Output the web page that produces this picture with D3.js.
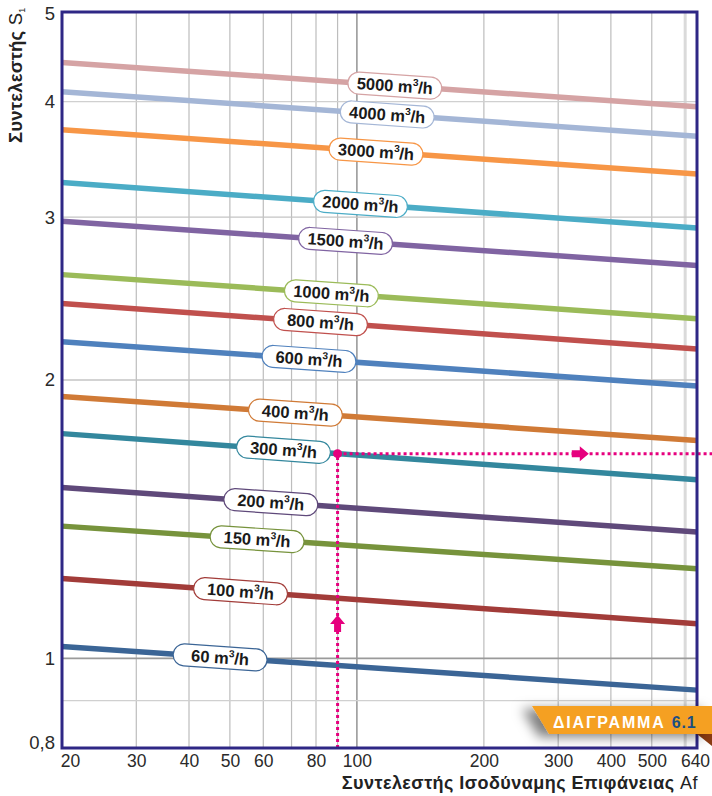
<!DOCTYPE html>
<html>
<head>
<meta charset="utf-8">
<script src="https://cdn.jsdelivr.net/npm/d3@7"></script>
<style>
  html, body { margin: 0; padding: 0; background: #fff; }
  svg { display: block; font-family: "Liberation Sans", Arial, sans-serif; }
</style>
</head>
<body>
<svg id="chart" width="712" height="796"></svg>
<script>
// Airflow curves (m³/h): coefficient S1 at Af = 20 and at Af = 640
const flows   = [5000, 4000, 3000, 2000, 1500, 1000, 800, 600, 400, 300, 200, 150, 100, 60];
const sAt20   = [4.41, 4.10, 3.73, 3.27, 2.97, 2.60, 2.42, 2.20, 1.92, 1.75, 1.53, 1.39, 1.22, 1.03];
const sAt640  = [3.95, 3.67, 3.34, 2.92, 2.66, 2.33, 2.16, 1.97, 1.72, 1.56, 1.37, 1.25, 1.09, 0.924];
// Af value where each curve carries its label
const labelAf = [123, 118, 111, 102, 94, 87, 82, 77, 71.5, 67, 62.5, 58, 53, 47.4];
const colors  = ["#d5a3a4", "#a4b6d6", "#f79646", "#4bacc6", "#8064a2", "#9bbb59", "#c0504d",
                 "#4f81bd", "#d07a36", "#33879d", "#5f497a", "#77933c", "#a23c39", "#3b6596"];

const xTickValues = [20, 30, 40, 50, 60, 80, 100, 200, 300, 400, 500, 640];
const xGridValues = [30, 40, 50, 60, 70, 80, 90, 100, 200, 300, 400, 500, 600];
const yTickValues = [0.8, 1, 2, 3, 4, 5];
const yTickLabels = ["0,8", "1", "2", "3", "4", "5"];
const yGridValues = [0.9, 1, 2, 3, 4];

// Worked example: Af = 90 on the 300 m³/h curve
const exampleAf = 90;
const exampleFlow = 300;

(function draw() {
  const svg = d3.select("#chart");
  const pL = 62, pR = 697, pT = 12, pB = 748;

  const x = d3.scaleLog().domain([20, 640]).range([pL, pR]);
  const y = d3.scaleLog().domain([0.8, 5]).range([pB, pT]);

  const defs = svg.append("defs");
  const shadow = defs.append("filter").attr("id", "badgeShadow")
    .attr("x", "-30%").attr("y", "-60%").attr("width", "160%").attr("height", "220%");
  shadow.append("feDropShadow").attr("dx", -10).attr("dy", 3).attr("stdDeviation", 6)
    .attr("flood-color", "#000").attr("flood-opacity", 0.5);

  // Grid
  const grid = svg.append("g");
  grid.selectAll("line.vx").data(xGridValues).join("line")
    .attr("x1", d => x(d)).attr("x2", d => x(d))
    .attr("y1", pT).attr("y2", pB)
    .attr("stroke", d => d === 100 ? "#9a9a9a" : d === 600 ? "#dadada" : "#bdbdbd")
    .attr("stroke-width", d => d === 100 ? 1.6 : d === 600 ? 3 : 1.2);
  grid.selectAll("line.hy").data(yGridValues).join("line")
    .attr("x1", pL).attr("x2", pR)
    .attr("y1", d => y(d)).attr("y2", d => y(d))
    .attr("stroke", d => d === 1 ? "#9a9a9a" : (d === 0.9 || d === 4) ? "#d0d0d0" : "#c4c4c4")
    .attr("stroke-width", d => d === 1 ? 1.6 : 1.3);

  // Curves
  const series = flows.map((f, i) => ({ flow: f, s0: sAt20[i], s1: sAt640[i], at: labelAf[i], color: colors[i] }));
  const line = d3.line().x(d => x(d[0])).y(d => y(d[1]));

  svg.append("g").selectAll("path").data(series).join("path")
    .attr("d", d => line([[20, d.s0], [640, d.s1]]))
    .attr("fill", "none").attr("stroke", d => d.color).attr("stroke-width", 5.5);

  // Pixel position along a curve (straight on log-log axes)
  function onCurve(d, af) {
    const t = (x(af) - x(20)) / (x(640) - x(20));
    return [x(af), y(d.s0) + (y(d.s1) - y(d.s0)) * t];
  }

  // Example guide lines
  const ex = series.find(d => d.flow === exampleFlow);
  const [exX, exY] = onCurve(ex, exampleAf);
  const pink = "#e6007e";
  const guide = svg.append("g");
  guide.append("line").attr("x1", exX).attr("x2", exX).attr("y1", pB).attr("y2", exY)
    .attr("stroke", pink).attr("stroke-width", 3).attr("stroke-dasharray", "3,3");
  guide.append("line").attr("x1", exX).attr("x2", 712).attr("y1", exY).attr("y2", exY)
    .attr("stroke", pink).attr("stroke-width", 3).attr("stroke-dasharray", "3,3");
  guide.append("circle").attr("cx", exX).attr("cy", exY).attr("r", 4.5).attr("fill", pink);
  // upward arrow on the vertical guide
  const upY = y(1.1);
  guide.append("path")
    .attr("d", `M${exX},${upY - 5} l7.5,9 h-4 v8 h-7 v-8 h-4 z`)
    .attr("fill", pink);
  // rightward arrow on the horizontal guide
  const rX = x(345);
  guide.append("path")
    .attr("d", `M${rX + 5},${exY} l-9,-7.5 v4 h-8 v7 h8 v4 z`)
    .attr("fill", pink);

  // Curve labels
  const labels = svg.append("g").selectAll("g").data(series).join("g")
    .attr("transform", d => {
      const [px, py] = onCurve(d, d.at);
      const ang = Math.atan2(y(d.s1) - y(d.s0), x(640) - x(20)) * 180 / Math.PI;
      return `translate(${px},${py}) rotate(${ang})`;
    });
  labels.append("rect")
    .attr("x", -47).attr("y", -11).attr("width", 94).attr("height", 22).attr("rx", 11)
    .attr("fill", "#fff").attr("stroke", d => d.color).attr("stroke-width", 1.2);
  const lt = labels.append("text")
    .attr("text-anchor", "middle").attr("y", 6)
    .attr("font-size", 16.5).attr("font-weight", "bold").attr("fill", "#1a1a1a");
  lt.append("tspan").text(d => d.flow + " m");
  lt.append("tspan").attr("font-size", 10).attr("dy", -7).text("3");
  lt.append("tspan").attr("dy", 7).text("/h");

  // Axes tick labels
  const xAxis = d3.axisBottom(x).tickValues(xTickValues).tickFormat(d3.format("d")).tickSize(0).tickPadding(0);
  const gx = svg.append("g").attr("transform", `translate(0,${pB})`).call(xAxis);
  gx.select(".domain").remove();
  gx.selectAll("text").attr("font-size", 17.5).attr("fill", "#2a2a2a")
    .attr("font-family", "'Liberation Sans', Arial, sans-serif").attr("dy", 0).attr("y", 19);
  gx.selectAll(".tick").filter(d => d === 20).select("text").attr("dx", 8);
  gx.selectAll(".tick").filter(d => d === 640).select("text").attr("dx", -2);

  const yAxis = d3.axisLeft(y).tickValues(yTickValues).tickFormat((d, i) => yTickLabels[i]).tickSize(0).tickPadding(7);
  const gy = svg.append("g").attr("transform", `translate(${pL},0)`).call(yAxis);
  gy.select(".domain").remove();
  gy.selectAll("text").attr("font-size", 18.5).attr("fill", "#2a2a2a")
    .attr("font-family", "'Liberation Sans', Arial, sans-serif");
  gy.selectAll(".tick").filter(d => d === 0.8).select("text").attr("dy", "0.05em");
  gy.selectAll(".tick").filter(d => d === 5).select("text").attr("dy", "0.42em");

  // Frame
  svg.append("rect").attr("x", pL).attr("y", pT).attr("width", pR - pL).attr("height", pB - pT)
    .attr("fill", "none").attr("stroke", "#2e2785").attr("stroke-width", 3);

  // Axis titles
  const xt = svg.append("text").attr("x", 698).attr("y", 788.5).attr("text-anchor", "end")
    .attr("font-size", 18).attr("letter-spacing", 0.45).attr("fill", "#222");
  xt.append("tspan").attr("font-weight", "bold").text("Συντελεστής Ισοδύναμης Επιφάνειας ");
  xt.append("tspan").text("Af");

  const yt = svg.append("text").attr("transform", "translate(22,143) rotate(-90)")
    .attr("text-anchor", "start").attr("font-size", 18.5).attr("letter-spacing", 0.2).attr("fill", "#222");
  yt.append("tspan").attr("font-weight", "bold").text("Συντελεστής ");
  yt.append("tspan").text("S");
  yt.append("tspan").attr("font-size", 9).attr("dy", 3).text("1");

  // Badge
  const badge = svg.append("g");
  badge.append("polygon").attr("points", "697,734 712,734 712,746").attr("fill", "#8a3b12");
  badge.append("polygon").attr("points", "532,706 712,706 712,734 549,734")
    .attr("fill", "#f5a024").attr("filter", "url(#badgeShadow)");
  const bt = badge.append("text").attr("x", 553).attr("y", 727.5)
    .attr("font-size", 16).attr("font-weight", "bold").attr("letter-spacing", 1.8);
  bt.append("tspan").attr("fill", "#fff").text("ΔΙΑΓΡΑΜΜΑ ");
  bt.append("tspan").attr("fill", "#1c4f82").attr("letter-spacing", 0.8).text("6.1");
})();
</script>
</body>
</html>
